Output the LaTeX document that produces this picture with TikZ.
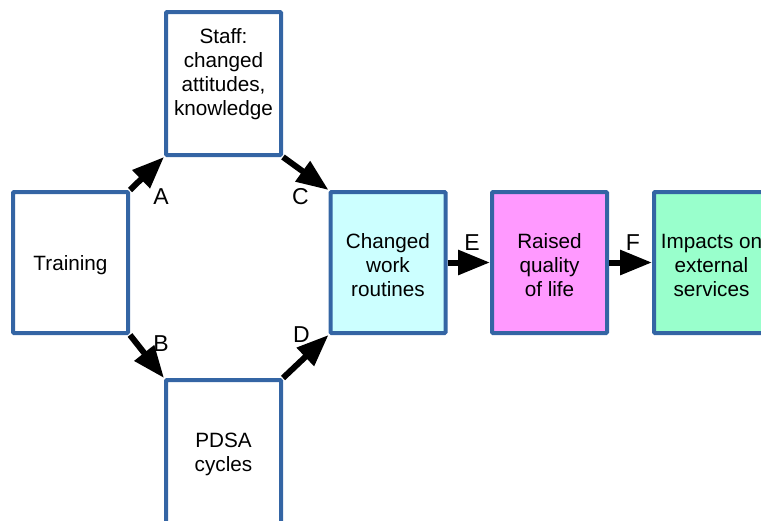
\documentclass[tikz,border=0pt]{standalone}
\usepackage{fontspec}
\setmainfont{Liberation Sans}
\usetikzlibrary{arrows.meta}
\definecolor{boxblue}{HTML}{3465A4}
\definecolor{routinecyan}{HTML}{CCFFFF}
\definecolor{qualitypink}{HTML}{FF99FF}
\definecolor{impactgreen}{HTML}{99FFCC}
\begin{document}
\begin{tikzpicture}[x=1pt,y=1pt,
        every node/.style={font=\fontsize{20.7}{24}\selectfont},
        box/.style={rectangle,draw=boxblue,line width=4pt,rounded corners=1pt,minimum width=115pt,minimum height=141pt},
        boxtext/.style={align=center,yshift=-3pt},
        tag/.style={font=\fontsize{23}{24}\selectfont},
        link/.style={-{Triangle[length=32pt,width=24pt]},line width=6pt}]
            \useasboundingbox (0,0) rectangle (761,-520);
            \clip (0,0) rectangle (761,-520);
            \node[box] (train) at (70.5,-262.5) {};
            \node[boxtext] (traintext) at (train.center) {Training};
            % upper and lower paths
            \node[box,minimum height=143pt,xshift=153pt,yshift=179pt] (staff) at (train.center) {};
            \node[boxtext,yshift=12.5pt] (stafftext) at (staff.center) {Staff:\\changed\\attitudes,\\knowledge};
            \node[box,minimum height=143pt,xshift=153pt,yshift=-189pt] (pdsa) at (train.center) {};
            \node[boxtext] (pdsatext) at (pdsa.center) {PDSA\\cycles};
            % outcome chain
            \node[box,fill=routinecyan,xshift=317.5pt] (routine) at (train.center) {};
            \node[boxtext] (routinetext) at (routine.center) {Changed\\work\\routines};
            \node[box,fill=qualitypink,xshift=161.5pt] (quality) at (routine.center) {};
            \node[boxtext] (qualitytext) at (quality.center) {Raised\\quality\\of life};
            \node[box,fill=impactgreen,xshift=162pt] (impact) at (quality.center) {};
            \node[boxtext] (impacttext) at (impact.center) {Impacts on\\external\\services};
            % arrows
            \draw[link] (train.north east) -- (staff.south west);
            \draw[link] (train.south east) -- (pdsa.north west);
            \draw[link] (staff.south east) -- (routine.north west);
            \draw[link] (pdsa.north east) -- (routine.south west);
            \draw[link] (routine.east) -- (quality.west);
            \draw[link] (quality.east) -- (impact.west);
            % arrow labels
            \node[tag,xshift=31pt,yshift=-7pt] (labA) at (train.north east) {A};
            \node[tag,xshift=31pt,yshift=-9pt] (labB) at (train.south east) {B};
            \node[tag,xshift=-28pt,yshift=-7pt] (labC) at (routine.north west) {C};
            \node[tag,xshift=-27pt,yshift=0pt] (labD) at (routine.south west) {D};
            \node[tag,xshift=-18pt,yshift=20pt] (labE) at (quality.west) {E};
            \node[tag,xshift=-19pt,yshift=20pt] (labF) at (impact.west) {F};
        \end{tikzpicture}
\end{document}
